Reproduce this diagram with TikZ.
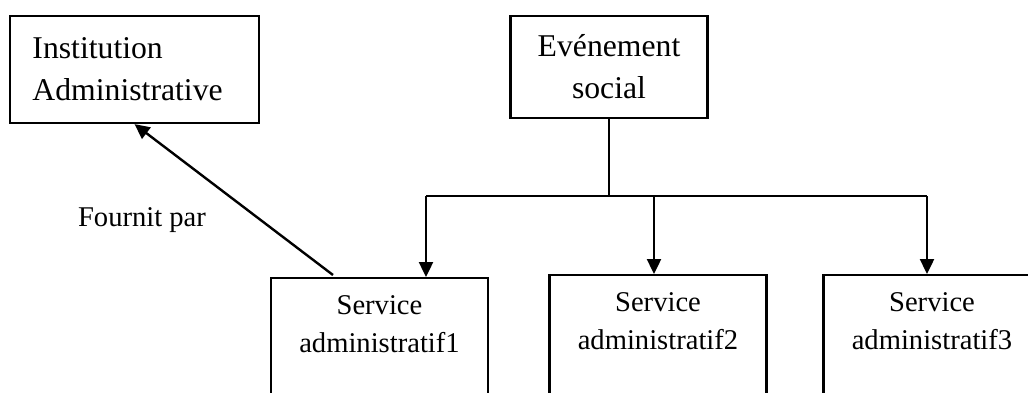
\documentclass[tikz,border=0pt]{standalone}
\usepackage{fontspec}
\setmainfont{Liberation Serif}
\usetikzlibrary{arrows.meta,calc,positioning}
\tikzset{
	box/.style={draw, line width=1.1pt, inner sep=0pt},
	topbox/.style={box, align=center, font=\fontsize{15.85}{21}\selectfont},
	svcbox/.style={box, anchor=north, minimum width=108.5pt, minimum height=70pt},
	svctxt/.style={align=center, inner sep=0pt, font=\fontsize{14.3}{19}\selectfont},
	link/.style={line width=1.2pt},
	arr/.style={link, -{Triangle[length=7.5pt, width=7pt]}}
}

\begin{document}
\begin{tikzpicture}[x=0.5pt, y=-0.5pt]
	%%%%% START %%%%%
	
	\useasboundingbox (0,0) rectangle (1028,392);
	\clip (0,0) rectangle (1028,392);
	
	% top boxes
	\node[topbox, align=left, minimum width=124.5pt, minimum height=53.5pt, text width=102pt] (inst) at (134.5,69.5) {Institution\\Administrative};
	\node[topbox, minimum width=98.5pt, minimum height=51pt] (even) at (609,67) {Evénement\\social};
	
	% services
	\node[svcbox] (s1) at (379.5,277) {};
	\node[svcbox] (s2) at (658,274) {};
	\node[svcbox] (s3) at (932,274) {};
	\node[svctxt, below=9pt of s1.north] (t1) {Service\\administratif1};
	\node[svctxt, below=9pt of s2.north] (t2) {Service\\administratif2};
	\node[svctxt, below=9pt of s3.north] (t3) {Service\\administratif3};
	
	% fork
	\coordinate (fork) at (609,196);
	\coordinate (b1) at (426,196);
	\coordinate (b2) at (654,196);
	\coordinate (b3) at (927,196);
	\draw[link] (even.south) -- (fork);
	\draw[link] (b1) -- (b3);
	\draw[arr] (b1) -- (b1 |- s1.north);
	\draw[arr] (b2) -- (b2 |- s2.north);
	\draw[arr] (b3) -- (b3 |- s3.north);
	
	% fournit par
	\draw[arr] ($(s1.north)+(-46.5,-2)$) -- (inst.south);
	\node[svctxt] (lbl) at (142,220) {Fournit par};
	
	%%%%% END %%%%%
\end{tikzpicture}
\end{document}
